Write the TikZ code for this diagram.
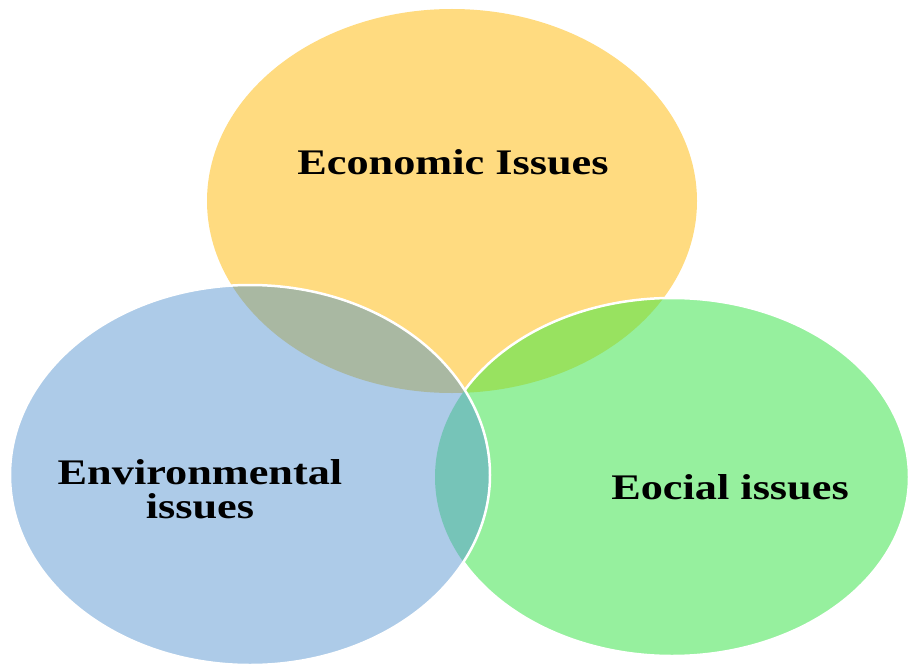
\documentclass[tikz,border=0pt]{standalone}
\usepackage{fontspec}
\setmainfont{Liberation Serif}
\newfontfamily\lblfont[FakeStretch=1.23]{Liberation Serif}
\definecolor{cyel}{RGB}{255,219,128}
\definecolor{cblu}{RGB}{173,203,232}
\definecolor{cgrn}{RGB}{150,240,158}
\definecolor{cyb}{RGB}{169,184,162}
\definecolor{cbg}{RGB}{118,196,184}
\definecolor{cyg}{RGB}{152,226,96}
\tikzset{lbl/.style={font=\lblfont\fontsize{36}{34}\selectfont\bfseries, align=center, text=black, inner sep=0pt}}
\begin{document}
\begin{tikzpicture}[x=1pt,y=-1pt]
\useasboundingbox (0,0) rectangle (910,666);
\def\yel{(452,201) ellipse [x radius=245, y radius=192]}
\def\blu{(250,475) ellipse [x radius=240, y radius=190]}
\def\grn{(672,477) ellipse [x radius=237, y radius=179]}
\fill[cyel] \yel;
\fill[cgrn] \grn;
\fill[cblu] \blu;
\begin{scope}
  \clip \yel;
  \fill[cyb] \blu;
  \fill[cyg] \grn;
\end{scope}
\begin{scope}
  \clip \blu;
  \fill[cbg] \grn;
\end{scope}
\begin{scope}[even odd rule]
  \clip (-10,-10) rectangle (920,680) \blu;
  \draw[white, line width=2.5pt] \grn;
\end{scope}
\draw[white, line width=2.5pt] \blu;
\node[lbl, anchor=base] (eco) at (453,175) {Economic Issues};
\node[lbl] (env) at (200,489) {Environmental\\issues};
\node[lbl, anchor=base] (soc) at (730,499) {Eocial issues};
\end{tikzpicture}
\end{document}
